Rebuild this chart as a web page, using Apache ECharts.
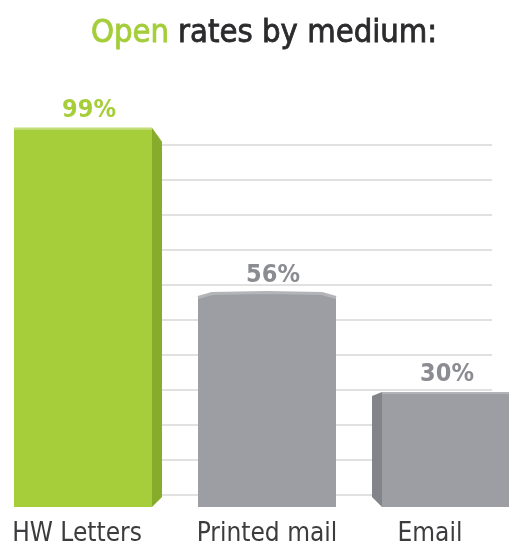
<!DOCTYPE html>
<html>
<head>
<meta charset="utf-8">
<script src="https://cdn.jsdelivr.net/npm/echarts@6/dist/echarts.min.js"></script>
<style>
  html, body { margin: 0; padding: 0; background: #fff; }
  #chart { width: 509px; height: 550px; }
</style>
</head>
<body>
<div id="chart"></div>
<script>
// Open rates per medium, in percent
const categories = ['HW Letters', 'Printed mail', 'Email'];
const openRates = [99, 56, 30];
const valueLabels = ['99%', '56%', '30%'];

// Per-bar look: front colour, side colour, which side the depth face sits on
const barStyles = [
  { front: '#a6cd3a', side: '#87ac2c', top: '#c3dd7c', label: '#a6cd3a', depth: 'right' },
  { front: '#9d9ea3', side: '#9d9ea3', top: '#b3b4b8', label: '#8b8c91', depth: 'none' },
  { front: '#9d9ea3', side: '#838489', top: '#b3b4b8', label: '#8b8c91', depth: 'left' }
];
// horizontal nudge of each category caption, in px
const captionShift = [-6, 0, -21];

const FONT = '"DejaVu Sans Condensed", "Liberation Sans Narrow", "Roboto", sans-serif';
const chart = echarts.init(document.getElementById('chart'), null, { renderer: 'canvas' });

function renderBar(params, api) {
  const i = params.dataIndex;
  const st = barStyles[i];
  const val = api.value(1);
  const top = api.coord([i, val]);
  const base = api.coord([i, 0]);
  const cx = top[0];
  const w = 138, d = 10, ch = 10;
  const x0 = cx - w / 2, x1 = cx + w / 2;
  const yT = top[1], yB = base[1];
  const children = [];
  let labelX = cx;

  if (st.depth === 'right') {
    children.push({
      type: 'polygon',
      shape: { points: [[x1, yT], [x1 + d, yT + 14], [x1 + d, yB - ch], [x1, yB]] },
      style: { fill: st.side }
    });
    labelX = cx + d / 2;
  } else if (st.depth === 'left') {
    children.push({
      type: 'polygon',
      shape: { points: [[x0, yT], [x0 - d, yT + 4], [x0 - d, yB - ch], [x0, yB]] },
      style: { fill: st.side }
    });
    labelX = cx - d / 2;
  }

  if (st.depth === 'none') {
    // front face with a gently raised top edge
    const pts = [[x0, yB], [x0, yT + 5], [x0 + 14, yT + 1], [cx, yT], [x1 - 14, yT + 1], [x1, yT + 5], [x1, yB]];
    children.push({ type: 'polygon', shape: { points: pts }, style: { fill: st.front } });
    children.push({
      type: 'polyline',
      shape: { points: [[x0, yT + 5], [x0 + 14, yT + 1], [cx, yT], [x1 - 14, yT + 1], [x1, yT + 5]] },
      style: { stroke: st.top, lineWidth: 3, fill: null }
    });
    labelX = cx + 5;
  } else {
    children.push({ type: 'rect', shape: { x: x0, y: yT, width: w, height: yB - yT }, style: { fill: st.front } });
    children.push({ type: 'rect', shape: { x: x0, y: yT, width: w, height: 2 }, style: { fill: st.top } });
  }

  children.push({
    type: 'text',
    style: {
      text: valueLabels[i],
      x: labelX + 1, y: yT - 5,
      align: 'center', verticalAlign: 'bottom',
      fill: st.label,
      font: 'bold 25px ' + FONT
    }
  });
  return { type: 'group', children };
}

const captionRich = {};
captionShift.forEach((s, i) => {
  captionRich['c' + i] = {
    fontFamily: FONT, fontSize: 26, color: '#3c3c3e',
    padding: s < 0 ? [0, -2 * s, 0, 0] : [0, 0, 0, 2 * s]
  };
});

chart.setOption({
  animation: false,
  backgroundColor: '#ffffff',
  title: {
    text: '{g|Open} {d|rates by medium:}',
    left: 86,
    top: 12,
    textStyle: {
      fontWeight: 'normal',
      rich: {
        g: { color: '#a3cd39', fontSize: 32.5, fontFamily: FONT, fontWeight: 'normal', textBorderColor: '#a3cd39', textBorderWidth: 0.8, padding: [0, 4, 0, 0] },
        d: { color: '#2b2b2d', fontSize: 32.5, fontFamily: FONT, fontWeight: 'normal', textBorderColor: '#2b2b2d', textBorderWidth: 0.8 }
      }
    }
  },
  grid: [
    { left: -9, right: -34, top: 124, bottom: 43, containLabel: false, outerBoundsMode: 'none' },
    { left: 160, right: 17, top: 145, bottom: 55, containLabel: false, outerBoundsMode: 'none' }
  ],
  xAxis: [
    {
      type: 'category', gridIndex: 0, data: categories,
      axisLine: { show: false }, axisTick: { show: false },
      axisLabel: {
        interval: 0,
        margin: 14,
        formatter: function (v, idx) { return '{c' + idx + '|' + v + '}'; },
        rich: captionRich
      }
    },
    { type: 'value', gridIndex: 1, show: false, min: 0, max: 1 }
  ],
  yAxis: [
    { type: 'value', gridIndex: 0, min: 0, max: 100, show: false },
    {
      type: 'value', gridIndex: 1, min: 0, max: 10, interval: 1,
      axisLine: { show: false }, axisTick: { show: false }, axisLabel: { show: false },
      splitLine: { show: true, lineStyle: { color: '#e1e1e1', width: 2 } }
    }
  ],
  series: [
    {
      type: 'custom', xAxisIndex: 0, yAxisIndex: 0, z: 5,
      renderItem: renderBar,
      data: openRates.map((v, i) => [i, v])
    }
  ]
});
</script>
</body>
</html>
